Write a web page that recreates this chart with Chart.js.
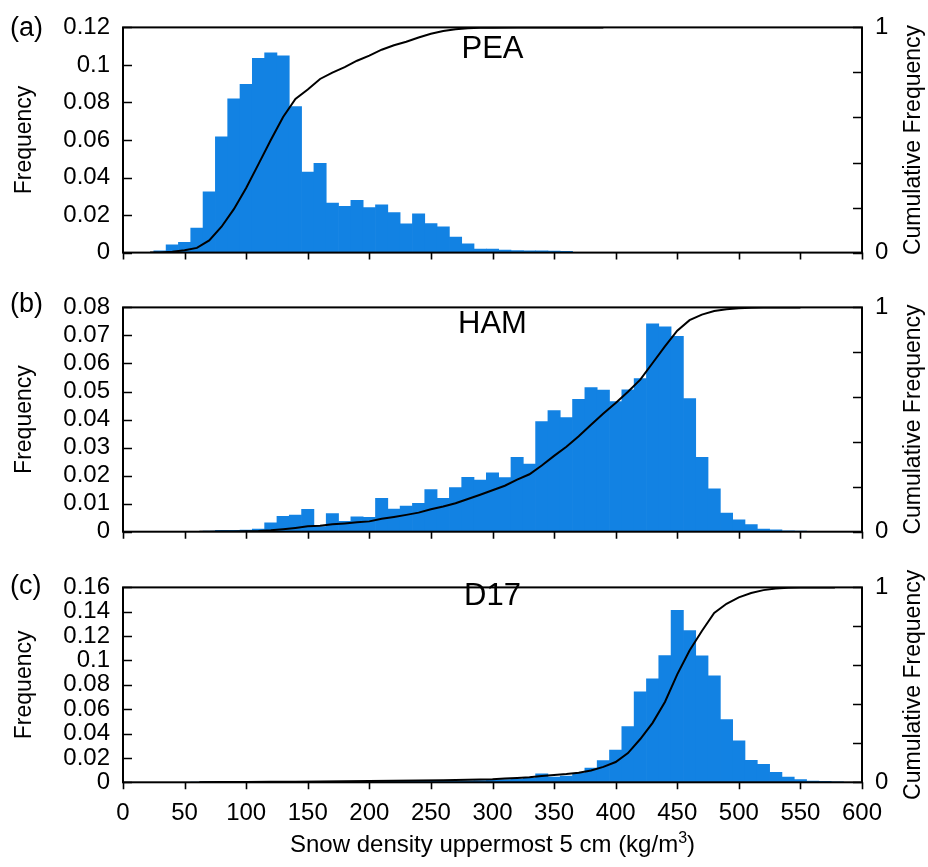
<!DOCTYPE html>
<html>
<head>
<meta charset="utf-8">
<title>Snow density histograms</title>
<script src="https://cdn.jsdelivr.net/npm/chart.js@4.4.1/dist/chart.umd.min.js"></script>
<style>
  html, body { margin: 0; padding: 0; background: #fff; }
  #wrap { position: relative; width: 928px; height: 867px; }
  #wrap canvas { position: absolute; left: 0; }
</style>
</head>
<body>
<div id="wrap">
  <canvas id="pea" width="928" height="280" style="top:0"></canvas>
  <canvas id="ham" width="928" height="280" style="top:280px"></canvas>
  <canvas id="d17" width="928" height="307" style="top:560px"></canvas>
</div>
<script>
"use strict";

// x axis: snow density (kg/m3), ticks every 50
const densityTicks = [0, 50, 100, 150, 200, 250, 300, 350, 400, 450, 500, 550, 600];

// PEA: 10 kg/m3 bins (centres) and relative frequency
const peaBins = [30, 40, 50, 60, 70, 80, 90, 100, 110, 120, 130, 140, 150, 160, 170, 180,
                 190, 200, 210, 220, 230, 240, 250, 260, 270, 280, 290, 300, 310, 320, 330,
                 340, 350, 360];
const peaFreq = [0.001, 0.0041, 0.0055, 0.013, 0.0324, 0.0617, 0.0819, 0.0896, 0.1035, 0.1064,
                 0.1049, 0.0778, 0.0429, 0.0476, 0.0264, 0.0247, 0.0278, 0.024, 0.0254, 0.0213,
                 0.0153, 0.0206, 0.0154, 0.0137, 0.0083, 0.0047, 0.0019, 0.0019, 0.0013, 0.0011,
                 0.001, 0.001, 0.0008, 0.0007];
const peaCumX = [22, 30, 40, 50, 60, 70, 80, 90, 100, 110, 120, 130, 140, 150, 160, 170, 180,
                 190, 200, 210, 220, 230, 240, 250, 260, 270, 280, 290, 300, 320, 350, 390];
const peaCum  = [0, 0.001, 0.004, 0.01, 0.021, 0.054, 0.115, 0.193, 0.287, 0.393, 0.5, 0.602,
                 0.682, 0.724, 0.771, 0.799, 0.824, 0.852, 0.875, 0.901, 0.921, 0.936, 0.955,
                 0.972, 0.984, 0.992, 0.996, 0.998, 0.999, 1, 1, 1];

// HAM
const hamBins = [70, 80, 90, 100, 110, 120, 130, 140, 150, 160, 170, 180, 190, 200, 210, 220,
                 230, 240, 250, 260, 270, 280, 290, 300, 310, 320, 330, 340, 350, 360, 370, 380,
                 390, 400, 410, 420, 430, 440, 450, 460, 470, 480, 490, 500, 510, 520, 530, 540,
                 550];
const hamFreq = [0.0002, 0.0005, 0.0005, 0.0006, 0.0009, 0.0032, 0.0055, 0.0059, 0.008, 0.0018,
                 0.0065, 0.0037, 0.0053, 0.0051, 0.0119, 0.0081, 0.0091, 0.0101, 0.015, 0.0119,
                 0.0157, 0.0194, 0.0184, 0.021, 0.0193, 0.0265, 0.0241, 0.0393, 0.0432, 0.0407,
                 0.0472, 0.0514, 0.0505, 0.0464, 0.0506, 0.0546, 0.0741, 0.0731, 0.0697, 0.0475,
                 0.0265, 0.0153, 0.0066, 0.0042, 0.0025, 0.0009, 0.0007, 0.0003, 0.0002];
const hamCumX = [62, 70, 80, 90, 100, 110, 120, 130, 140, 150, 160, 170, 180, 190, 200, 210,
                 220, 230, 240, 250, 260, 270, 280, 290, 300, 310, 320, 330, 340, 350, 360, 370,
                 380, 390, 400, 410, 420, 430, 440, 450, 460, 470, 480, 490, 500, 510, 520, 530,
                 550];
const hamCum  = [0, 0.0002, 0.0007, 0.0012, 0.0018, 0.003, 0.006, 0.011, 0.017, 0.024, 0.027,
                 0.033, 0.037, 0.042, 0.046, 0.058, 0.066, 0.075, 0.085, 0.1, 0.112, 0.127, 0.146,
                 0.165, 0.185, 0.205, 0.232, 0.256, 0.295, 0.338, 0.379, 0.426, 0.477, 0.527,
                 0.574, 0.624, 0.678, 0.752, 0.826, 0.896, 0.943, 0.968, 0.984, 0.992, 0.996,
                 0.998, 0.999, 1, 1];

// D17
const d17Bins = [60, 70, 80, 90, 100, 110, 120, 130, 140, 150, 160, 170, 180, 190, 200, 210,
                 220, 230, 240, 250, 260, 270, 280, 290, 300, 310, 320, 330, 340, 350, 360, 370,
                 380, 390, 400, 410, 420, 430, 440, 450, 460, 470, 480, 490, 500, 510, 520, 530,
                 540, 550, 560, 570, 580];
const d17Freq = [0.0002, 0.0003, 0.0004, 0.0002, 0.0002, 0.0003, 0.0004, 0.0003, 0.0005, 0.0004,
                 0.0005, 0.0004, 0.0005, 0.0005, 0.0006, 0.0006, 0.0007, 0.0007, 0.0008, 0.0009,
                 0.001, 0.0011, 0.0013, 0.0015, 0.0018, 0.0022, 0.0026, 0.0035, 0.0069, 0.0043,
                 0.0051, 0.0074, 0.0117, 0.0178, 0.0265, 0.0458, 0.0743, 0.085, 0.104, 0.1412,
                 0.1245, 0.1038, 0.0875, 0.0514, 0.0341, 0.0181, 0.0148, 0.0081, 0.0043, 0.0023,
                 0.001, 0.0008, 0.0003];
const d17CumX = [62, 80, 100, 120, 140, 160, 180, 200, 220, 240, 260, 280, 300, 310, 320, 330,
                 340, 350, 360, 370, 380, 390, 400, 410, 420, 430, 440, 450, 460, 470, 480, 490,
                 500, 510, 520, 530, 540, 550, 560, 578];
const d17Cum  = [0, 0.001, 0.0015, 0.0023, 0.003, 0.0041, 0.005, 0.0062, 0.0075, 0.009, 0.011,
                 0.013, 0.016, 0.019, 0.022, 0.026, 0.032, 0.037, 0.042, 0.049, 0.061, 0.079,
                 0.104, 0.15, 0.222, 0.305, 0.412, 0.554, 0.676, 0.776, 0.869, 0.916, 0.949,
                 0.971, 0.986, 0.994, 0.998, 0.999, 1, 1];

const BAR_BLUE = '#1282e3';
const FONT = '"Liberation Sans", Arial, Helvetica, sans-serif';

Chart.defaults.font.family = FONT;
Chart.defaults.font.size = 24;
Chart.defaults.color = '#000';

function pairs(xs, ys) {
  return xs.map(function(_x, _i) { return {x: _x, y: ys[_i]}; });
}

function fmtTick(_v) {
  return String(+(+_v).toFixed(4));
}

// frame, inward y ticks, outward x ticks and all panel annotations
const panelDecor = {
  id: 'panelDecor',
  afterDraw(chart, args, o) {
    const ctx = chart.ctx;
    const a = chart.chartArea;
    const sx = chart.scales.x, sy = chart.scales.y, sy1 = chart.scales.y1;
    const midY = (a.top + a.bottom) / 2;
    const midX = (a.left + a.right) / 2;

    ctx.save();
    ctx.strokeStyle = '#000';
    ctx.lineWidth = 1.6;
    ctx.beginPath();
    sy.ticks.forEach(function(_t) {
      const _py = Math.round(sy.getPixelForValue(_t.value)) + 0.5;
      ctx.moveTo(a.left, _py); ctx.lineTo(a.left + 9, _py);
    });
    sy1.ticks.forEach(function(_t) {
      const _py = Math.round(sy1.getPixelForValue(_t.value)) + 0.5;
      ctx.moveTo(a.right, _py); ctx.lineTo(a.right - 9, _py);
    });
    densityTicks.forEach(function(_v) {
      const _px = Math.round(sx.getPixelForValue(_v)) + 0.5;
      ctx.moveTo(_px, a.bottom); ctx.lineTo(_px, a.bottom + 7);
    });
    ctx.stroke();

    ctx.lineWidth = 2;
    ctx.strokeRect(a.left, a.top, a.right - a.left, a.bottom - a.top);

    ctx.fillStyle = '#000';
    ctx.textBaseline = 'alphabetic';

    // panel letter and site name
    ctx.font = '27px ' + FONT;
    ctx.textAlign = 'left';
    ctx.fillText(o.letter, o.letterX, o.letterY);
    ctx.font = '31px ' + FONT;
    ctx.textAlign = 'center';
    ctx.fillText(o.site, midX, o.siteY);

    // axis titles, both read bottom to top
    ctx.font = '23px ' + FONT;
    ctx.textBaseline = 'middle';
    ctx.save();
    ctx.translate(25, midY);
    ctx.rotate(-Math.PI / 2);
    ctx.fillText('Frequency', 0, 0);
    ctx.restore();
    ctx.save();
    ctx.translate(914, midY);
    ctx.rotate(-Math.PI / 2);
    ctx.fillText('Cumulative Frequency', 0, 0);
    ctx.restore();

    if (o.xTitle) {
      const _main = 'Snow density uppermost 5 cm (kg/m';
      ctx.textBaseline = 'alphabetic';
      ctx.textAlign = 'left';
      ctx.font = '24px ' + FONT;
      const _w1 = ctx.measureText(_main).width;
      const _w3 = ctx.measureText(')').width;
      ctx.font = '16px ' + FONT;
      const _w2 = ctx.measureText('3').width;
      let _x = midX - (_w1 + _w2 + _w3) / 2;
      ctx.font = '24px ' + FONT;
      ctx.fillText(_main, _x, o.xTitleY);
      _x += _w1;
      ctx.font = '16px ' + FONT;
      ctx.fillText('3', _x, o.xTitleY - 9);
      _x += _w2;
      ctx.font = '24px ' + FONT;
      ctx.fillText(')', _x, o.xTitleY);
    }
    ctx.restore();
  }
};

function makePanel(_id, _p) {
  return new Chart(document.getElementById(_id), {
    type: 'bar',
    data: {
      datasets: [
        {
          type: 'line',
          data: pairs(_p.cumX, _p.cum),
          yAxisID: 'y1',
          borderColor: '#000',
          borderWidth: 2,
          pointRadius: 0,
          tension: 0,
          fill: false,
          order: 0
        },
        {
          type: 'bar',
          data: pairs(_p.bins, _p.freq),
          yAxisID: 'y',
          backgroundColor: BAR_BLUE,
          borderWidth: 0,
          barPercentage: 1,
          categoryPercentage: 1,
          order: 1
        }
      ]
    },
    options: {
      responsive: false,
      animation: false,
      events: [],
      layout: { padding: { top: _p.padTop, left: 0, right: 0, bottom: 0 } },
      plugins: {
        legend: { display: false },
        tooltip: { enabled: false },
        panelDecor: _p.decor
      },
      scales: {
        x: {
          type: 'linear',
          offset: false,
          min: 0,
          max: 600,
          grid: { display: false, drawTicks: false },
          border: { display: false },
          ticks: { display: _p.showX, stepSize: 50, padding: 17, maxRotation: 0, autoSkip: false },
          afterFit: function(_s) { _s.height = _p.xHeight; }
        },
        y: {
          position: 'left',
          min: 0,
          max: _p.yMax,
          grid: { display: false, drawTicks: false },
          border: { display: false },
          ticks: { stepSize: _p.yStep, padding: 13, autoSkip: false, callback: fmtTick },
          afterFit: function(_s) { _s.width = 123; }
        },
        y1: {
          position: 'right',
          min: 0,
          max: 1,
          grid: { display: false, drawTicks: false },
          border: { display: false },
          ticks: {
            stepSize: 0.2,
            padding: 13,
            autoSkip: false,
            callback: function(_v) {
              if (Math.abs(_v) < 1e-9) return '0';
              if (Math.abs(_v - 1) < 1e-9) return '1';
              return '';
            }
          },
          afterFit: function(_s) { _s.width = 66; }
        }
      }
    },
    plugins: [panelDecor]
  });
}

makePanel('pea', {
  bins: peaBins, freq: peaFreq, cumX: peaCumX, cum: peaCum,
  yMax: 0.12, yStep: 0.02, padTop: 24, xHeight: 22.5, showX: false,
  decor: { letter: '(a)', letterX: 10, letterY: 36, site: 'PEA', siteY: 58 }
});

makePanel('ham', {
  bins: hamBins, freq: hamFreq, cumX: hamCumX, cum: hamCum,
  yMax: 0.08, yStep: 0.01, padTop: 18.3, xHeight: 28.3, showX: false,
  decor: { letter: '(b)', letterX: 10, letterY: 32, site: 'HAM', siteY: 53 }
});

makePanel('d17', {
  bins: d17Bins, freq: d17Freq, cumX: d17CumX, cum: d17Cum,
  yMax: 0.16, yStep: 0.02, padTop: 12.7, xHeight: 84.7, showX: true,
  decor: { letter: '(c)', letterX: 10, letterY: 34, site: 'D17', siteY: 45,
           xTitle: true, xTitleY: 292 }
});
</script>
</body>
</html>
